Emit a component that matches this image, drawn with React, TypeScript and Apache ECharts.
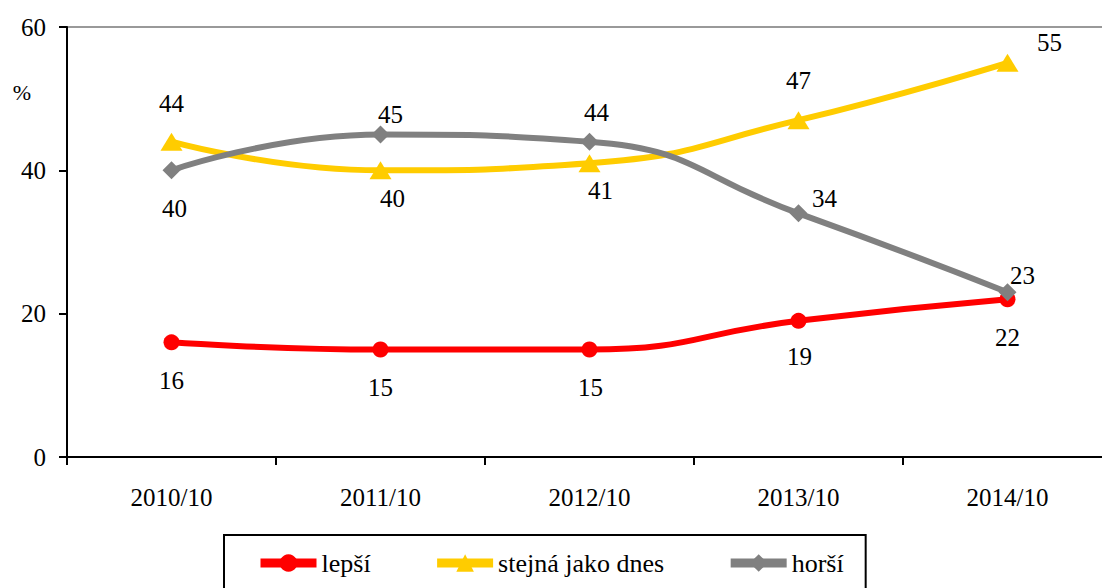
import React, { useEffect, useRef } from "react";
import * as echarts from "echarts";

const categories = ["2010/10", "2011/10", "2012/10", "2013/10", "2014/10"];
const seriesNames = ["lepší", "stejná jako dnes", "horší"];
const lepsi = [16, 15, 15, 19, 22];
const stejna = [44, 40, 41, 47, 55];
const horsi = [40, 45, 44, 34, 23];
const yMin = 0;
const yMax = 60;
const yInterval = 20;

// label offsets (pixels from the marker centre), a styling detail
const lepsiLabelOffsets = [[0, 38], [0, 38], [1, 38], [1, 36], [0, 38]];
const stejnaLabelOffsets = [[0, -38], [12, 28], [11, 27], [0, -40], [42, -20]];
const horsiLabelOffsets = [[3, 38], [10, -20], [7, -29], [26, -15], [15, -17]];

const FONT = "Liberation Serif";

function makeSeries(name: string, values: number[], offsets: number[][], color: string, symbol: string, symbolSize: any) {
  return {
    type: "line",
    name,
    data: values.map((v, i) => ({ value: v, label: { offset: offsets[i] } })),
    smooth: 0.5,
    symbol,
    symbolSize,
    lineStyle: { width: 6, color },
    itemStyle: { color },
    label: {
      show: true,
      position: "inside",
      color: "#000",
      fontSize: 25,
      fontFamily: FONT,
      align: "center",
      verticalAlign: "middle",
    },
    z: 3,
  };
}

export default function App() {
  const ref = useRef<HTMLDivElement>(null);
  useEffect(() => {
    if (!ref.current) return;
    const chart = echarts.init(ref.current, null, { renderer: "svg" });
    chart.setOption({
      animation: false,
      backgroundColor: "#fff",
      textStyle: { fontFamily: FONT },
      grid: {
        left: 67,
        top: 27,
        right: 8,
        bottom: 131,
        show: true,
        borderColor: "#999",
        borderWidth: 2,
      },
      xAxis: {
        type: "category",
        data: categories,
        boundaryGap: true,
        axisLine: { show: true, lineStyle: { color: "#000", width: 2 } },
        axisTick: { show: true, length: 8, lineStyle: { color: "#000", width: 2 }, alignWithLabel: false },
        axisLabel: { color: "#000", fontSize: 25, fontFamily: FONT, margin: 28 },
        splitLine: { show: false },
      },
      yAxis: {
        type: "value",
        min: yMin,
        max: yMax,
        interval: yInterval,
        axisLine: { show: true, lineStyle: { color: "#000", width: 2 } },
        axisTick: { show: true, length: 8, lineStyle: { color: "#000", width: 2 } },
        axisLabel: { color: "#000", fontSize: 25, fontFamily: FONT, margin: 21 },
        splitLine: { show: false },
      },
      legend: {
        data: seriesNames,
        left: 224,
        top: 535,
        orient: "horizontal",
        padding: [15, 22, 24, 32],
        itemGap: 62,
        itemWidth: 56,
        itemHeight: 22,
        borderColor: "#000",
        borderWidth: 2,
        lineStyle: { width: 9 },
        textStyle: { color: "#000", fontSize: 26, fontFamily: FONT },
      },
      graphic: [
        {
          type: "text",
          x: 22,
          y: 92,
          style: { text: "%", fontSize: 22, fontFamily: FONT, fill: "#000", textAlign: "center", textVerticalAlign: "middle" },
        },
      ],
      series: [
        makeSeries(seriesNames[0], lepsi, lepsiLabelOffsets, "#FF0000", "circle", 16),
        makeSeries(seriesNames[1], stejna, stejnaLabelOffsets, "#FFCC00", "triangle", [22, 18]),
        makeSeries(seriesNames[2], horsi, horsiLabelOffsets, "#808080", "diamond", [18, 18]),
      ],
    });
    return () => chart.dispose();
  }, []);
  return (
    <div style={{ position: "absolute", left: 0, top: 0, width: 1102, height: 588, overflow: "hidden", background: "#fff" }}>
      <div ref={ref} style={{ width: 1120, height: 588 }} />
    </div>
  );
}
